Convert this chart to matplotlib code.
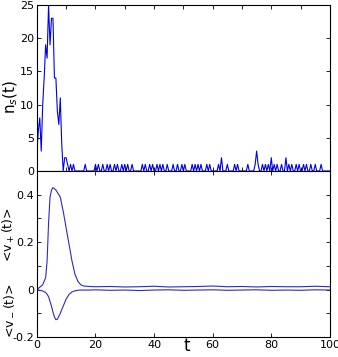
import numpy as np
import matplotlib
matplotlib.use("Agg")
import matplotlib.pyplot as plt

# n_s(t), sampled every 0.5 time units from t=0 to t=100
ns_dt = 0.5
ns_vals = [
    3, 6, 8, 3, 10, 14, 19, 17, 25, 19, 23, 23, 14, 14, 9, 7, 11, 4, 0, 2,
    2, 1, 0, 1, 0, 1, 0, 0, 0, 0, 0, 0, 0, 1, 0, 0, 0, 0, 0, 0,
    1, 0, 1, 0, 0, 1, 0, 0, 1, 0, 1, 0, 0, 1, 0, 1, 0, 0, 1, 0,
    1, 0, 1, 0, 0, 1, 0, 0, 0, 0, 0, 0, 1, 0, 1, 0, 0, 1, 0, 1,
    0, 0, 1, 0, 1, 0, 1, 0, 0, 1, 0, 0, 0, 1, 0, 0, 1, 0, 0, 1,
    0, 1, 0, 0, 0, 0, 1, 0, 1, 0, 1, 0, 1, 0, 0, 0, 1, 0, 1, 0,
    0, 0, 0, 0, 1, 0, 2, 0, 0, 0, 1, 0, 0, 0, 0, 1, 0, 1, 0, 0,
    0, 0, 0, 0, 1, 0, 0, 0, 0, 1, 3, 1, 0, 0, 1, 0, 1, 0, 1, 0,
    2, 0, 1, 0, 1, 0, 0, 1, 0, 0, 2, 0, 1, 0, 1, 0, 0, 1, 0, 1,
    0, 0, 1, 0, 1, 0, 0, 1, 0, 0, 1, 0, 0, 0, 1, 0, 0, 0, 0, 0, 0,
]

# <v+(t)> and <v-(t)>
v_t = [0, 1, 2, 3, 3.5, 4, 4.5, 5, 5.5, 6, 6.5, 7, 8, 9, 10, 11, 12, 13, 14, 15,
       16, 18, 20, 25, 30, 35, 40, 45, 50, 55, 60, 65, 70, 75, 80, 85, 90, 95, 100]
v_plus = [0.0, 0.01, 0.02, 0.05, 0.12, 0.28, 0.39, 0.42, 0.43, 0.425, 0.42, 0.41,
          0.39, 0.33, 0.26, 0.19, 0.12, 0.065, 0.035, 0.02, 0.015, 0.013, 0.012,
          0.013, 0.011, 0.012, 0.014, 0.011, 0.012, 0.013, 0.015, 0.012, 0.013,
          0.011, 0.013, 0.012, 0.012, 0.014, 0.012]
v_minus = [0.0, -0.003, -0.006, -0.012, -0.02, -0.03, -0.05, -0.07, -0.095,
           -0.115, -0.127, -0.125, -0.1, -0.07, -0.04, -0.02, -0.01, -0.005,
           -0.003, -0.002, -0.002, -0.002, -0.001, -0.003, -0.002, -0.004,
           -0.002, -0.001, -0.003, -0.002, -0.001, -0.003, -0.002, -0.001,
           -0.003, -0.002, -0.003, -0.001, -0.002]

ns_t = np.arange(len(ns_vals)) * ns_dt

fig = plt.figure(figsize=(3.38, 3.57), dpi=100)
ax1 = fig.add_axes([0.109, 0.521, 0.867, 0.465])
ax2 = fig.add_axes([0.109, 0.056, 0.867, 0.465])

ax1.plot(ns_t, ns_vals, color='#0000ee', lw=0.8)
ax1.set_xlim(0, 100)
ax1.set_ylim(0, 25)
ax1.set_yticks([0, 5, 10, 15, 20, 25])
ax1.set_xticks(np.arange(0, 101, 10))
ax1.set_xticklabels([])
ax1.tick_params(direction='in', top=True, right=True, labelsize=8,
                length=3, width=0.6, pad=2)

ax2.plot(v_t, v_plus, color='#2a2acc', lw=0.8)
ax2.plot(v_t, v_minus, color='#2a2acc', lw=0.8)
ax2.set_xlim(0, 100)
ax2.set_ylim(-0.2, 0.5)
yt = [-0.2, -0.1, 0, 0.1, 0.2, 0.3, 0.4]
ax2.set_yticks(yt)
ax2.set_yticklabels(['-0.2', '', '0', '', '0.2', '', '0.4'])
ax2.set_xticks([0, 20, 40, 60, 80, 100])
ax2.tick_params(direction='in', top=True, right=True, labelsize=8,
                length=3, width=0.6, pad=2)

for ax in (ax1, ax2):
    for s in ax.spines.values():
        s.set_linewidth(0.8)

fig.text(0.033, 0.73, 'n$_s$(t)', rotation=90, fontsize=11,
         ha='center', va='center')
fig.text(0.026, 0.342, '<v$_+$(t)>', rotation=90, fontsize=9,
         ha='center', va='center')
fig.text(0.026, 0.13, '<v$_-$(t)>', rotation=90, fontsize=9,
         ha='center', va='center')
fig.text(0.553, 0.03, 't', fontsize=12, ha='center', va='center')

fig.savefig('out.png', dpi=100)
